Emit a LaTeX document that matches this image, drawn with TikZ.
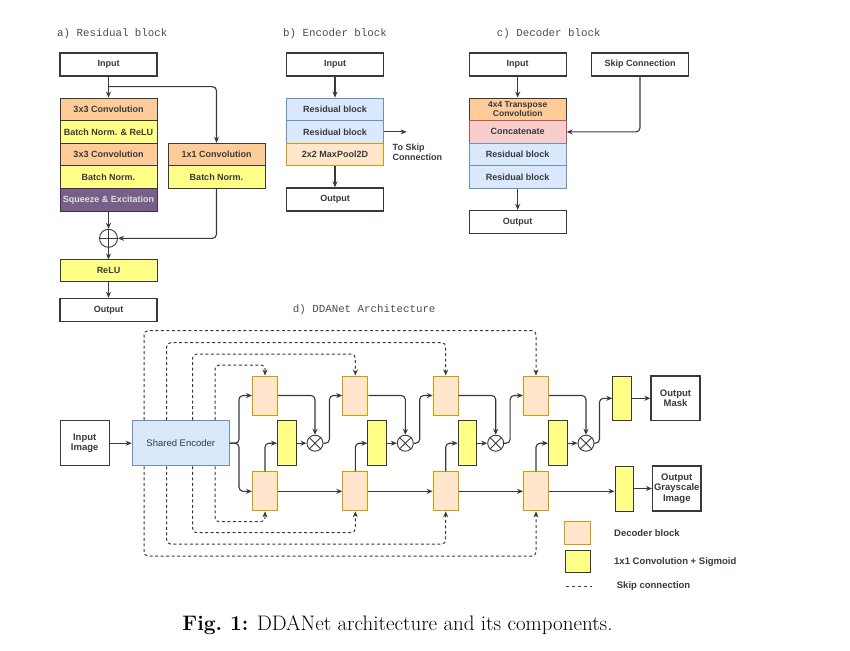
\documentclass[tikz,border=0pt]{standalone}
\usepackage{fontspec}
\usepackage{tikz}
\usetikzlibrary{arrows.meta}
\newfontfamily\boxfont{Liberation Sans}
\newfontfamily\headfont{Liberation Mono}
\definecolor{ConvOrange}{HTML}{FFCC99}
\definecolor{NormYellow}{HTML}{FFFF88}
\definecolor{SEPurple}{HTML}{76608A}
\definecolor{SEBorder}{HTML}{432D57}
\definecolor{ResBlue}{HTML}{DAE8FC}
\definecolor{ResBorder}{HTML}{6C8EBF}
\definecolor{PoolFill}{HTML}{FFE6CC}
\definecolor{PoolBorder}{HTML}{D79B00}
\definecolor{CatPink}{HTML}{F8CECC}
\definecolor{CatBorder}{HTML}{B85450}
\definecolor{BoxLine}{HTML}{36393D}

\begin{document}
\begin{tikzpicture}[x=1pt, y=-1pt, >={Stealth[length=6pt, width=5pt]},
  every node/.style={inner sep=0pt, text=BoxLine},
  blockfont/.style={font=\boxfont\bfseries\fontsize{9}{10}\selectfont},
  bigfont/.style={font=\boxfont\bfseries\fontsize{9.5}{10.5}\selectfont},
  plainbox/.style={draw=BoxLine, line width=1.4pt, fill=white, minimum width=97pt, minimum height=23pt, blockfont},
  rowbox/.style={draw=BoxLine, line width=0.8pt, minimum width=97pt, minimum height=22.6pt, blockfont},
  convrow/.style={rowbox, fill=ConvOrange},
  normrow/.style={rowbox, fill=NormYellow},
  serow/.style={rowbox, fill=SEPurple, draw=SEBorder, text=white!88!black},
  resrow/.style={rowbox, fill=ResBlue, draw=ResBorder},
  poolrow/.style={rowbox, fill=PoolFill, draw=PoolBorder},
  catrow/.style={rowbox, fill=CatPink, draw=CatBorder},
  decblk/.style={draw=PoolBorder, line width=1pt, fill=PoolFill, minimum width=25pt, minimum height=39pt},
  sigblk/.style={draw=BoxLine, line width=0.9pt, fill=NormYellow, minimum width=18.5pt, minimum height=45pt},
  sumnode/.style={circle, draw=BoxLine, line width=0.9pt, minimum size=18pt},
  prodnode/.style={circle, draw=BoxLine, line width=0.9pt, minimum size=16pt},
  flow/.style={->, draw=BoxLine, line width=1.1pt, rounded corners=4pt},
  skipline/.style={->, draw=BoxLine, line width=1pt, dash pattern=on 3pt off 2.5pt, rounded corners=4pt},
  heading/.style={anchor=west, font=\headfont\fontsize{10.8}{12}\selectfont, text=black!70}]

  \useasboundingbox (0,0) rectangle (850,650);

  % Panel titles
  \node[heading] (titleA) at (57,34) {a) Residual block};
  \node[heading] (titleB) at (283,34) {b) Encoder block};
  \node[heading] (titleC) at (496.7,34) {c) Decoder block};
  \node[heading] (titleD) at (292.7,310) {d) DDANet Architecture};

  % a) Residual block
  \node[plainbox] (resIn) at (108.5,64.5) {Input};
  \node[convrow] (resConv1) at (108.5,109.3) {3x3 Convolution};
  \node[normrow] (resBn1) at (108.5,131.9) {Batch Norm. \& ReLU};
  \node[convrow] (resConv2) at (108.5,154.5) {3x3 Convolution};
  \node[normrow] (resBn2) at (108.5,177.1) {Batch Norm.};
  \node[serow] (resSE) at (108.5,199.7) {Squeeze \& Excitation};
  \node[convrow] (resConv3) at (216.5,154.5) {1x1 Convolution};
  \node[normrow] (resBn3) at (216.5,177.1) {Batch Norm.};
  \node[sumnode] (resAdd) at (108.5,238.3) {};
  \node[normrow, minimum height=22pt] (resRelu) at (108.5,270.8) {ReLU};
  \node[plainbox] (resOut) at (108.5,310) {Output};
  \coordinate (resSplit) at (108.5,86.7);

  \draw[flow] (resIn) -- (resConv1);
  \draw[flow] (resSplit) -| (resConv3);
  \draw[flow] (resSE) -- (resAdd);
  \draw[flow] (resBn3.south) |- (resAdd.east);
  \draw[flow] (resAdd) -- (resRelu);
  \draw[flow] (resRelu) -- (resOut);
  \draw[BoxLine, line width=0.9pt] (resAdd.north) -- (resAdd.south) (resAdd.west) -- (resAdd.east);

  % b) Encoder block
  \node[plainbox] (encIn) at (335,64.5) {Input};
  \node[resrow] (encRes1) at (335,109.3) {Residual block};
  \node[resrow] (encRes2) at (335,131.9) {Residual block};
  \node[poolrow] (encPool) at (335,154.5) {2x2 MaxPool2D};
  \node[plainbox] (encOut) at (335,199.5) {Output};
  \coordinate (encSkip) at (406.7,131.9);
  \node[blockfont, anchor=west, align=left] (encSkipLbl) at (392.5,152) {To Skip\\Connection};

  \draw[flow] (encIn) -- (encRes1);
  \draw[flow] (encRes2) -- (encSkip);
  \draw[flow] (encPool) -- (encOut);

  % c) Decoder block
  \node[plainbox] (decIn) at (517.7,64.5) {Input};
  \node[plainbox] (decSkip) at (640,64.5) {Skip Connection};
  \node[convrow, align=center, font=\boxfont\bfseries\fontsize{8.5}{9.5}\selectfont] (decUp) at (517.7,109.3) {4x4 Transpose\\Convolution};
  \node[catrow] (decCat) at (517.7,131.9) {Concatenate};
  \node[resrow] (decRes1) at (517.7,154.5) {Residual block};
  \node[resrow] (decRes2) at (517.7,177.1) {Residual block};
  \node[plainbox] (decOut) at (517.7,222) {Output};

  \draw[flow] (decIn) -- (decUp);
  \draw[flow] (decSkip) |- (decCat);
  \draw[flow] (decRes2) -- (decOut);

  % d) DDANet architecture
  \node[plainbox, minimum width=49pt, minimum height=45pt, align=center, bigfont] (ddIn) at (84.7,443.2) {Input\\Image};
  \node[resrow, line width=1.2pt, minimum height=45pt, font=\boxfont\fontsize{9.5}{10.5}\selectfont] (ddEnc) at (180.8,443.2) {Shared Encoder};
  \coordinate (ddFork) at (239,443.2);

  % skip connection turning points
  \coordinate (sk1) at (215,365);     \coordinate (skb1) at (215,521.7);
  \coordinate (sk2) at (192.7,354);   \coordinate (skb2) at (192.7,532.7);
  \coordinate (sk3) at (166.7,342.7); \coordinate (skb3) at (166.7,544);
  \coordinate (sk4) at (144,330.7);   \coordinate (skb4) at (144,556);

  \foreach \i/\cx in {1/265,2/355.3,3/445.7,4/536} {
    \node[decblk] (T\i) at (\cx,395.5) {};
    \node[decblk] (B\i) at (\cx,491.3) {};
    \node[sigblk] (S\i) at (\cx+21.75,443.2) {};
    \node[prodnode] (M\i) at (\cx+50,443.2) {};
    \draw[flow] (T\i) -| (M\i);
    \draw[flow] (B\i) |- (S\i);
    \draw[flow] (S\i) -- (M\i);
    \draw[BoxLine, line width=0.9pt] (M\i.north west) -- (M\i.south east) (M\i.north east) -- (M\i.south west);
    \draw[skipline] (ddEnc.north -| sk\i) |- (T\i.north |- sk\i) -- (T\i);
    \draw[skipline] (ddEnc.south -| skb\i) |- (B\i.south |- skb\i) -- (B\i);
  }

  \draw[flow] (ddIn) -- (ddEnc);
  \draw[flow] (ddEnc.east) -- (ddFork) |- (T1);
  \draw[flow] (ddEnc.east) -- (ddFork) |- (B1);
  \foreach \i/\j in {1/2,2/3,3/4} {
    \draw[flow] (M\i.east) -- ++(6,0) |- (T\j);
    \draw[flow] (B\i) -- (B\j);
  }

  % outputs
  \node[sigblk, minimum width=19pt, minimum height=44.7pt] (ddMaskConv) at (622.2,398.3) {};
  \node[plainbox, minimum width=49pt, minimum height=44.7pt, align=center, bigfont] (ddMask) at (675.5,398.3) {Output\\Mask};
  \node[sigblk, minimum width=18.7pt] (ddGrayConv) at (624.3,488.5) {};
  \node[plainbox, minimum width=48.3pt, minimum height=45pt, align=center, bigfont] (ddGray) at (676.8,488.5) {Output\\Grayscale\\Image};

  \draw[flow] (M4.east) -- ++(5,0) |- (ddMaskConv);
  \draw[flow] (B4.east) -- (B4.east -| ddGrayConv.west);
  \draw[flow] (ddMaskConv) -- (ddMask);
  \draw[flow] (ddGrayConv) -- (ddGray);

  % legend
  \node[decblk, minimum width=25.7pt, minimum height=22.6pt] (legDec) at (577.8,533) {};
  \node[sigblk, minimum width=25.7pt, minimum height=22.7pt] (legSig) at (577.8,561.3) {};
  \coordinate (legSkipA) at (566,586);
  \coordinate (legSkipB) at (591.7,586);
  \draw[BoxLine, line width=1pt, dash pattern=on 3pt off 3pt] (legSkipA) -- (legSkipB);
  \node[bigfont, anchor=west] (legDecLbl) at (614,533.3) {Decoder block};
  \node[bigfont, anchor=west] (legSigLbl) at (614,561.7) {1x1 Convolution + Sigmoid};
  \node[bigfont, anchor=west] (legSkipLbl) at (616.7,586) {Skip connection};

  % caption
  \node[text=black, font=\fontsize{21}{25}\selectfont] (caption) at (397.5,625) {\textbf{Fig.~1:} DDANet architecture and its components.};
\end{tikzpicture}
\end{document}
